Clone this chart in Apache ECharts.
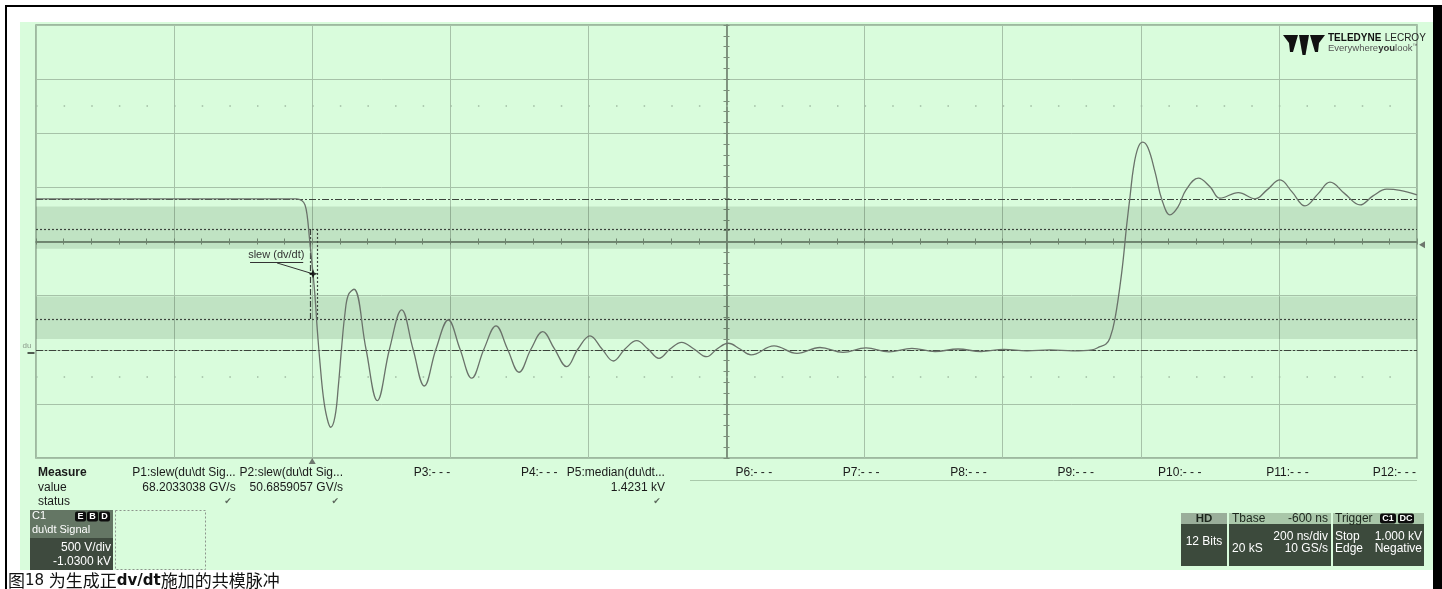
<!DOCTYPE html>
<html><head><meta charset="utf-8">
<script src="https://cdn.jsdelivr.net/npm/echarts@6/dist/echarts.min.js"></script>
<style>html,body{margin:0;padding:0;background:#fff;}#c{width:1442px;height:589px;}</style>
</head><body><div id="c"></div>
<script>
// ---- data (time in ns relative to trigger, voltage in V) ----
const fallEdge = [[-400,1424],[-235,1424],[-22.4,1424],[-15.2,1408],[-10.4,1368],[-7.1,1260],[-4.2,1075],[1.2,731],[4.1,521],[7.4,213],[11.3,-92],[16.1,-404],[21.0,-588],[26.8,-686],[33.0,-588],[37.8,-311],[42.7,59],[47.5,367],[52.3,536],[60.5,589]];
const lowRinging = [[77.9,37],[94.3,-440],[112.0,37],[129.6,398],[146.0,37],[162.3,-305],[179.3,37],[197.1,305],[214.0,37],[231.0,-233],[248.8,37],[266.2,250],[282.8,37],[299.5,-178],[316.9,37],[333.8,197],[350.9,37],[368.6,-126],[384.9,37],[402.3,158],[419.7,37],[436.1,-74],[453.0,37],[469.9,114],[486.3,37],[502.2,-49],[518.2,37],[535.1,99],[552.9,37],[571.3,-34],[586.2,37],[602.6,90],[619.6,37],[635.5,-18],[668.8,65],[702.1,-4],[735.4,51],[768.7,5],[802.0,47],[835.3,10],[868.6,42],[902.0,14],[935.3,37],[968.6,14],[1001.9,33],[1035.2,19],[1068.5,28],[1101.8,19],[1129.3,28]];
const riseEdge = [[1140.9,59],[1149.6,84],[1155.4,139],[1162.6,315],[1172.3,740],[1179.6,1183],[1184.4,1445],[1189.4,1710],[1195.9,1895],[1202.8,1948],[1210.4,1895],[1220.6,1673],[1230.7,1414],[1242.3,1276],[1253.9,1350],[1265.5,1507],[1283.3,1615],[1300.2,1535],[1314.7,1430],[1341.2,1482],[1365.4,1424],[1382.8,1507],[1401.6,1599],[1419.0,1488],[1437.8,1359],[1456.6,1470],[1474.0,1578],[1495.7,1470],[1517.5,1368],[1536.3,1451],[1556.1,1513],[1575.4,1502],[1600,1461]];
const medianV = 1423.1;
const baseV = 28;
const thresholdsV = [1146, 315];
const bandsV = [[962, 1353], [130, 521]];
const slewTimesNs = [-3, 7];
const slewPoint = [1.2, 731];
const trigLevelV = 1000;
const groundV = 0;
const timeAxis = {min: -400, max: 1600, interval: 200};
const voltAxis = {min: -970, max: 3030};
const measureNames = ['P1:slew(du\\dt Sig...','P2:slew(du\\dt Sig...','P3:- - -','P4:- - -','P5:median(du\\dt...','P6:- - -','P7:- - -','P8:- - -','P9:- - -','P10:- - -','P11:- - -','P12:- - -'];
const measureValues = ['68.2033038 GV/s','50.6859057 GV/s','','','1.4231 kV','','','','','','',''];
const measureStatus = ['✔','✔','','','✔','','','','','','',''];

const signal = fallEdge.concat(lowRinging, riseEdge);

const FONT = '"Liberation Sans", Arial, sans-serif';
function T(text, x, y, o) {
  o = o || {};
  const al = o.align || 'left';
  return {type:'text', z:50, silent:true, style:{text:text, x:x, y:y, fill:o.fill||'#1a1a1a',
    font:(o.weight||'normal')+' '+(o.size||12)+'px '+(o.family||FONT),
    align:al, textAlign:al, verticalAlign:'middle', textVerticalAlign:'middle'}};
}
function R(x,y,w,h,fill,extra) {
  return Object.assign({type:'rect', z:40, silent:true, shape:{x:x,y:y,width:w,height:h}, style:{fill:fill}}, extra||{});
}
function badge(x,y,w,h,label){
  return [R(x,y,w,h,'#0d0d0d',{shape:{x:x,y:y,width:w,height:h,r:2}}), T(label, x+w/2, y+h/2+0.5, {align:'center', fill:'#fff', size:9, weight:'bold'})];
}

const g = [];
g.push({type:'rect', z:-10, silent:true, shape:{x:20,y:22,width:1413,height:548}, style:{fill:'#d9fcdc'}});
g.push({type:'rect', z:60, silent:true, shape:{x:5,y:5,width:2,height:584}, style:{fill:'#000'}});
g.push({type:'rect', z:60, silent:true, shape:{x:5,y:5,width:1437,height:2}, style:{fill:'#000'}});
g.push({type:'rect', z:60, silent:true, shape:{x:1433,y:5,width:9,height:584}, style:{fill:'#000'}});

// logo
g.push({type:'polygon', z:50, silent:true, shape:{points:[[1283,35],[1298,35],[1293,52],[1290,52],[1289,43]]}, style:{fill:'#111'}});
g.push({type:'polygon', z:50, silent:true, shape:{points:[[1325,35],[1310,35],[1315,52],[1318,52],[1319,43]]}, style:{fill:'#111'}});
g.push({type:'polygon', z:50, silent:true, shape:{points:[[1299,35],[1309,35],[1305.5,55],[1302.5,55]]}, style:{fill:'#111'}});
g.push({type:'text', z:50, silent:true, style:{x:1328, y:38, verticalAlign:'middle', textVerticalAlign:'middle',
  text:'{a|TELEDYNE} {b|LECROY}', rich:{a:{fontFamily:'Liberation Sans', fontWeight:'bold', fontSize:10, fill:'#111', color:'#111'}, b:{fontFamily:'Liberation Sans', fontSize:10, fill:'#222', color:'#222'}}}});
g.push({type:'text', z:50, silent:true, style:{x:1328, y:48, verticalAlign:'middle', textVerticalAlign:'middle',
  text:'{a|Everywhere}{b|you}{a|look}{c|™}', rich:{a:{fontFamily:'Liberation Sans', fontSize:9.5, color:'#555', fill:'#555'}, b:{fontFamily:'Liberation Sans', fontWeight:'bold', fontSize:9.5, color:'#333', fill:'#333'}, c:{fontSize:5, color:'#555', fill:'#555', verticalAlign:'top'}}}});

// measure table
g.push(T('Measure', 38, 473, {weight:'bold'}));
g.push(T('value', 38, 488));
g.push(T('status', 38, 502));
for (let k = 0; k < measureNames.length; k++) {
  const xr = 1416 - 107.3 * (measureNames.length - 1 - k);
  g.push(T(measureNames[k], xr, 473, {align:'right'}));
  if (measureValues[k]) g.push(T(measureValues[k], xr, 488, {align:'right'}));
  if (measureStatus[k]) g.push(T(measureStatus[k], xr - 4, 502, {align:'right', size:9, fill:'#5b665b', family:'"DejaVu Sans"'}));
}
g.push({type:'line', z:40, silent:true, shape:{x1:690,y1:480.5,x2:1417,y2:480.5}, style:{stroke:'#a9c9ab', lineWidth:1}});

// C1 channel box
g.push(R(30,510,83,28,'#647664'));
g.push(R(30,538,83,32,'#3e4a3e'));
g.push(T('C1', 32, 516, {fill:'#fff', size:11}));
[['E',75],['B',87],['D',99]].forEach(function(b){ g.push.apply(g, badge(b[1],511.5,11,10,b[0])); });
g.push(T('du\\dt Signal', 32, 530, {fill:'#fff', size:11}));
g.push(T('500 V/div', 111, 548, {fill:'#fff', align:'right'}));
g.push(T('-1.0300 kV', 111, 562, {fill:'#fff', align:'right'}));
g.push({type:'rect', z:40, silent:true, shape:{x:115.5,y:510.5,width:90,height:59}, style:{fill:'none', stroke:'#8c948c', lineWidth:1, lineDash:[2,2]}});

// timebase / trigger boxes
g.push(R(1181,513,46,11,'#9aae9a'));
g.push(R(1181,524,46,42,'#3c4a3c'));
g.push(T('HD', 1204, 519, {align:'center', weight:'bold', size:11.5, fill:'#1c261c'}));
g.push(T('12 Bits', 1204, 542, {align:'center', fill:'#fff'}));
g.push(R(1229,513,102,11,'#a9c7a9'));
g.push(R(1229,524,102,42,'#3c4a3c'));
g.push(T('Tbase', 1232, 519, {fill:'#1c261c'}));
g.push(T('-600 ns', 1328, 519, {align:'right', fill:'#1c261c'}));
g.push(T('200 ns/div', 1328, 537, {align:'right', fill:'#fff'}));
g.push(T('20 kS', 1232, 549, {fill:'#fff'}));
g.push(T('10 GS/s', 1328, 549, {align:'right', fill:'#fff'}));
g.push(R(1333,513,91,11,'#a9c7a9'));
g.push(R(1333,524,91,42,'#3c4a3c'));
g.push(T('Trigger', 1335, 519, {fill:'#1c261c'}));
g.push.apply(g, badge(1380,513.5,16,10,'C1'));
g.push.apply(g, badge(1398,513.5,16,10,'DC'));
g.push(T('Stop', 1335, 537, {fill:'#fff'}));
g.push(T('1.000 kV', 1422, 537, {align:'right', fill:'#fff'}));
g.push(T('Edge', 1335, 549, {fill:'#fff'}));
g.push(T('Negative', 1422, 549, {align:'right', fill:'#fff'}));

// caption
g.push({type:'text', z:50, silent:true, style:{x:8, y:581, verticalAlign:'middle', textVerticalAlign:'middle',
  text:'{a|图}{b|18 }{a|为生成正}{c|dv/dt}{a|施加的共模脉冲}',
  rich:{a:{fontFamily:'Noto Sans CJK SC', fontSize:17, color:'#111', fill:'#111'},
        b:{fontFamily:'DejaVu Sans', fontSize:15, color:'#111', fill:'#111'},
        c:{fontFamily:'DejaVu Sans', fontWeight:'bold', fontSize:15, color:'#111', fill:'#111'}}}});

const GRID = '#a6c2a8';
const AXC = '#7b8f7b';
const tickStyle = {color: AXC, width: 1};
function centerAxis(extra) {
  return Object.assign({
    axisLabel:{show:false}, splitLine:{show:false},
    axisTick:{show:true, length:3, lineStyle:tickStyle},
    minorTick:{show:true, splitNumber:5, length:3, lineStyle:tickStyle},
  }, extra);
}

const option = {
  animation: false,
  backgroundColor: '#ffffff',
  graphic: {elements: g},
  grid: {left:36, top:25, width:1381, height:433, show:true, borderColor:'#8aa28c', borderWidth:1.5, backgroundColor:'transparent'},
  xAxis: [
    centerAxis({type:'value', min:timeAxis.min, max:timeAxis.max, interval:timeAxis.interval, position:'bottom',
      axisLine:{show:true, onZero:true, onZeroAxisIndex:0, lineStyle:{color:AXC, width:1.5}},
      splitLine:{show:true, lineStyle:{color:GRID, width:1}}}),
    centerAxis({type:'value', min:timeAxis.min, max:timeAxis.max, interval:timeAxis.interval, position:'top',
      axisLine:{show:true, onZero:true, onZeroAxisIndex:0, lineStyle:{color:AXC, width:1.5}}}),
    {type:'value', min:-5, max:5, interval:1, show:false}
  ],
  yAxis: [
    centerAxis({type:'value', min:-4, max:4, interval:1, position:'left',
      axisLine:{show:true, onZero:true, onZeroAxisIndex:2, lineStyle:{color:AXC, width:1.5}},
      splitLine:{show:true, lineStyle:{color:GRID, width:1}}}),
    centerAxis({type:'value', min:-4, max:4, interval:1, position:'right',
      axisLine:{show:true, onZero:true, onZeroAxisIndex:2, lineStyle:{color:AXC, width:1.5}}}),
    {type:'value', min:voltAxis.min, max:voltAxis.max, show:false}
  ],
  series: [
    {
      type:'line', name:'du\\dt Signal', xAxisIndex:0, yAxisIndex:2, data:signal, showSymbol:false, smooth:0.4,
      lineStyle:{color:'#6a726a', width:1.3}, z:5, silent:true,
      markArea:{silent:true, itemStyle:{color:'rgba(20,50,20,0.12)'},
        data: bandsV.map(function(b){ return [{yAxis:b[0]},{yAxis:b[1]}]; })},
      markLine:{silent:true, symbol:'none', label:{show:false}, animation:false,
        data:[
          {yAxis:medianV, lineStyle:{color:'#3b433b', width:1.2, type:[7,2,2,2]}},
          {yAxis:baseV, lineStyle:{color:'#3b433b', width:1.2, type:[7,2,2,2]}},
          {yAxis:thresholdsV[0], lineStyle:{color:'#3b433b', width:1.2, type:[2,2]}},
          {yAxis:thresholdsV[1], lineStyle:{color:'#3b433b', width:1.2, type:[2,2]}},
          {yAxis:voltAxis.min + 3250, lineStyle:{color:'#a0bba2', width:1.5, type:[1.5,26.12]}},
          {yAxis:voltAxis.min + 750, lineStyle:{color:'#a0bba2', width:1.5, type:[1.5,26.12]}},
          [{coord:[slewTimesNs[0], thresholdsV[0]], lineStyle:{color:'#3b433b', width:1.2, type:[6,2,2,2]}},{coord:[slewTimesNs[0], thresholdsV[1]]}],
          [{coord:[slewTimesNs[1], thresholdsV[0]], lineStyle:{color:'#3b433b', width:1.2, type:[2,2]}},{coord:[slewTimesNs[1], thresholdsV[1]]}]
        ]}
    },
    {
      type:'scatter', xAxisIndex:0, yAxisIndex:2, data:[slewPoint], z:8, silent:true, clip:false,
      symbol:'path://M0,-5L1.4,-1.4L5,0L1.4,1.4L0,5L-1.4,1.4L-5,0L-1.4,-1.4Z', symbolSize:9,
      itemStyle:{color:'#000'},
      markLine:{silent:true, symbol:'none', label:{show:false},
        data:[
          [{coord:[-51, 832], lineStyle:{color:'#333', width:1, type:'solid'}},{coord:slewPoint}],
          [{coord:[-90, 838], lineStyle:{color:'#333', width:1, type:'solid'}},{coord:[-13, 838]}]
        ]},
      markPoint:{silent:true,
        data:[
          {coord:[-52, 905], symbol:'circle', symbolSize:1, itemStyle:{color:'rgba(0,0,0,0)'},
            label:{show:true, position:'inside', formatter:'slew (dv/dt)', color:'#333', fontSize:11, fontFamily:'Liberation Sans'}},
          {coord:[0, voltAxis.min], symbol:'triangle', symbolSize:[7,6], symbolOffset:[0,3], itemStyle:{color:'#6e776e'}, label:{show:false}},
          {coord:[timeAxis.max, trigLevelV], symbol:'triangle', symbolRotate:90, symbolSize:[7,6], symbolOffset:[5,0], itemStyle:{color:'#6e776e'}, label:{show:false}},
          {coord:[timeAxis.min, groundV], symbol:'rect', symbolSize:[7,2], symbolOffset:[-5,0], itemStyle:{color:'#4f5a4f'},
            label:{show:true, formatter:'du', position:'top', distance:2, offset:[-4,0], fontSize:8, color:'#8a9a8a', fontFamily:'Liberation Sans'}}
        ]}
    }
  ]
};
const chart = echarts.init(document.getElementById('c'));
chart.setOption(option);
</script>
</body></html>
